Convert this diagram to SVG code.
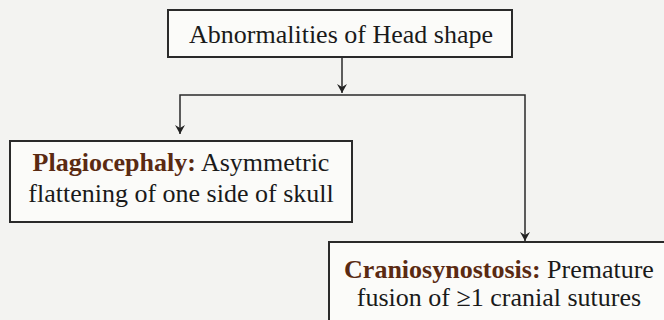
<svg xmlns="http://www.w3.org/2000/svg" width="664" height="320" viewBox="0 0 664 320">
<defs>
<marker id="arr" viewBox="0 0 10 10" refX="9" refY="5" markerWidth="10" markerHeight="10" markerUnits="userSpaceOnUse" orient="auto-start-reverse">
<path d="M0,0 L9,5 L0,10 L3,5 Z" fill="#222"/>
</marker>
<style>
.box{fill:#fbfbf9;stroke:#2a2a2a;stroke-width:2}
.t{font-family:"Liberation Serif","Times New Roman",serif;font-size:26px;fill:#1a1a1a}
.b{font-weight:bold;fill:#5a2a12}
.c{fill:none;stroke:#2a2a2a;stroke-width:1.5}
</style>
</defs>
<rect width="664" height="320" fill="#f3f3f1"/>
<g id="connectors">
<line class="c" x1="342" y1="58" x2="342" y2="93" marker-end="url(#arr)"/>
<polyline class="c" points="180,134 180,95 525,95 525,241" marker-start="url(#arr)" marker-end="url(#arr)"/>
</g>
<g id="root">
<rect class="box" x="168" y="10" width="344" height="47"/>
<text class="t" x="341" y="43" text-anchor="middle">Abnormalities of Head shape</text>
</g>
<g id="plagiocephaly">
<rect class="box" x="10" y="141" width="342" height="81"/>
<text class="t" x="181" y="171" text-anchor="middle"><tspan class="b">Plagiocephaly:</tspan> Asymmetric</text>
<text class="t" x="181" y="202" text-anchor="middle">flattening of one side of skull</text>
</g>
<g id="craniosynostosis">
<rect class="box" x="329" y="242" width="345" height="90"/>
<text class="t" x="499" y="278" text-anchor="middle"><tspan class="b">Craniosynostosis:</tspan> Premature</text>
<text class="t" x="499" y="306" text-anchor="middle">fusion of ≥1 cranial sutures</text>
</g>
</svg>
